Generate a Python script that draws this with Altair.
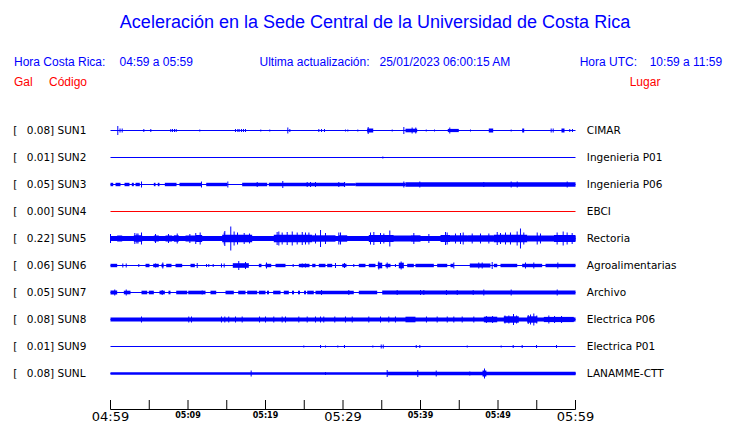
import altair as alt
import pandas as pd

# ---------------- texts ----------------
TITLE = "Aceleración en la Sede Central de la Universidad de Costa Rica"
HORA_CR = ["Hora Costa Rica:", "04:59 a 05:59"]
ACTUALIZACION = ["Ultima actualización:", "25/01/2023 06:00:15 AM"]
HORA_UTC = ["Hora UTC:", "10:59 a 11:59"]
COLUMN_HEADS = ["Gal", "Código", "Lugar"]

# ---------------- stations ----------------
CODES = ["SUN1", "SUN2", "SUN3", "SUN4", "SUN5", "SUN6", "SUN7", "SUN8", "SUN9", "SUNL"]
PEAKS = ["0.08", "0.01", "0.05", "0.00", "0.22", "0.06", "0.05", "0.08", "0.01", "0.08"]
PLACES = ["CIMAR", "Ingenieria P01", "Ingenieria P06", "EBCI", "Rectoria",
          "Agroalimentarias", "Archivo", "Electrica P06", "Electrica P01", "LANAMME-CTT"]
STATUS = ["ok", "ok", "ok", "off", "ok", "ok", "ok", "ok", "ok", "ok"]

# time axis (minutes after 04:59)
T_START, T_END = 0, 60
TICKS = [0, 5, 10, 15, 20, 25, 30, 35, 40, 45, 50, 55, 60]
MAJOR_TICKS = [0, 30, 60]
MAJOR_LABELS = ["04:59", "05:29", "05:59"]
MINOR_TICKS = [10, 20, 40, 50]
MINOR_LABELS = ["05:09", "05:19", "05:39", "05:49"]

# ---------------- trace envelopes (minute, half amplitude) ----------------
SUN1_SPIKES = [(0.94, 4.5), (1.23, 2), (1.51, 2), (4.30, 1.5), (5.20, 1.5), (7.78, 1.5), (8.0, 1.5),
               (8.26, 1.5), (8.48, 1.5), (11.52, 1), (16.13, 1.5), (16.43, 1.5), (16.6, 1.5), (16.9, 1.5),
               (17.16, 1.5), (17.42, 1.5), (19.39, 1), (20.55, 1), (22.88, 3), (23.14, 1.5), (26.88, 1.5),
               (27.23, 1.5), (27.61, 1.5), (30.32, 1), (30.62, 1), (31.91, 1), (33.25, 3.5), (36.35, 1),
               (37.85, 3.5), (38.92, 3), (39.39, 3), (40.74, 1), (41.81, 1), (43.78, 3), (46.45, 1),
               (51.70, 1), (56.86, 2), (57.12, 2), (59.26, 1.5), (59.61, 1.5)]
SUN1_BURSTS = [(33.12, 33.9, 2), (38.06, 39.57, 1.8), (43.52, 44.94, 1.6), (48.81, 49.38, 2),
               (53.12, 53.38, 2), (58.19, 58.58, 2)]

SUN2_SPIKES = [(35.14, 1)]
SUN2_BURSTS = []

SUN3_SPIKES = [(4.0, 3), (11.74, 3), (15.14, 3), (18.93, 2.5), (22.23, 3.5), (25.38, 2.5), (25.81, 2.5),
               (26.45, 2.5), (29.46, 2.5), (30.19, 2.5), (37.85, 3), (39.91, 3), (48.17, 2.5), (51.7, 3),
               (52.48, 3), (58.93, 3)]
SUN3_BURSTS = [(0, 0.35, 1.7), (0.65, 1.29, 1.7), (1.81, 2.45, 1.7), (2.75, 3.01, 1.7), (3.23, 3.78, 1.7),
               (5.59, 5.81, 1.7), (6.1, 6.32, 1.7), (7.01, 8.52, 1.7), (8.9, 11.7, 1.7), (12.35, 15.06, 1.7),
               (16.99, 20.22, 1.7), (20.43, 30.32, 1.7), (30.32, 31.61, 1.3), (31.61, 38.06, 1.7),
               (38.06, 60, 2.2)]

SUN4_SPIKES = []
SUN4_BURSTS = []

SUN5_SPIKES = [(0.0, 4.5), (3.14, 5.5), (3.4, 5), (3.55, 5), (4.0, 6), (5.81, 4.5), (7.48, 4.5), (8.61, 5),
               (10.24, 4.5), (11.0, 5.5), (11.57, 6), (14.67, 6), (14.75, 7.5), (15.52, 12), (15.95, 7),
               (16.39, 6), (17.25, 5.5), (17.94, 5), (21.5, 6.5), (21.72, 7), (22.15, 6), (22.8, 6.5),
               (23.45, 7), (24.09, 6), (24.74, 6.5), (25.16, 6), (25.6, 6), (26.45, 5), (27.1, 8.5),
               (27.74, 5.5), (29.46, 6), (29.68, 6), (33.55, 6), (33.98, 6.5), (34.84, 5.5), (35.27, 5),
               (36.04, 8), (39.14, 5.5), (41.08, 4.5), (43.23, 6.5), (43.44, 6), (44.52, 5), (45.16, 5.5),
               (45.51, 6), (46.67, 5), (47.74, 5), (48.82, 5), (49.9, 6.5), (50.32, 5.5), (50.97, 6),
               (51.61, 6), (52.47, 7), (52.9, 10), (53.33, 6), (55.06, 6), (55.48, 5), (57.63, 6),
               (58.41, 7), (58.92, 6), (59.57, 5.5)]
SUN5_BURSTS = [(0, 60, 2.6), (0.86, 1.51, 3), (3.01, 4.09, 3.3), (5.59, 6.23, 3), (7.1, 7.96, 3),
               (8.17, 8.81, 3.2), (9.68, 10.97, 3), (10.97, 11.83, 3.5), (14.41, 18.28, 3.8),
               (21.07, 26.03, 3.8), (26.03, 29.03, 3.2), (29.46, 30.54, 3.2),
               (33.33, 36.55, 3.5), (36.55, 38.71, 3), (38.71, 40.0, 3.2),
               (42.58, 43.87, 3.5), (43.87, 46.03, 3.2), (46.03, 49.46, 3.2), (49.46, 53.77, 3.8),
               (53.77, 57.2, 3), (57.2, 60, 3.5)]

SUN6_SPIKES = [(1.59, 2), (2.03, 2), (3.65, 1.5), (5.81, 2), (6.75, 3), (11.19, 2.5), (12.39, 1.5),
               (12.68, 1.5), (13.25, 1.5), (14.32, 2), (14.67, 2), (16.55, 4.5), (17.42, 3.5), (20.13, 3),
               (23.57, 1.5), (24.74, 2), (25.16, 2), (29.03, 2.5), (30.19, 2.5), (31.39, 1.5), (34.62, 4),
               (35.7, 3), (36.77, 1.5), (37.5, 4), (44.3, 3), (47.52, 3), (47.96, 3), (49.25, 3.5),
               (53.55, 3), (54.62, 3), (57.72, 3)]
SUN6_BURSTS = [(0, 0.86, 1.7), (4.52, 5.03, 1.7), (5.51, 6.23, 1.7), (6.58, 6.84, 1.7), (7.19, 7.87, 1.7),
               (8.39, 9.25, 1.7), (10.32, 10.88, 1.7), (15.78, 17.85, 2.3), (19.14, 19.48, 1.7), (20.0, 20.74, 1.7),
               (21.29, 22.58, 1.7), (24.3, 25.68, 1.7), (26.03, 26.45, 1.7), (26.88, 27.74, 1.7),
               (27.96, 28.61, 1.7), (29.9, 30.45, 1.7), (32.04, 32.9, 1.7), (33.33, 34.19, 1.7),
               (34.49, 35.06, 2.8), (35.48, 36.13, 1.7), (37.2, 37.85, 2.8), (38.28, 39.14, 1.7), (39.35, 41.72, 1.7),
               (42.15, 43.45, 1.7), (43.87, 44.26, 1.7), (46.36, 49.03, 2), (49.46, 49.9, 1.7),
               (50.32, 52.48, 1.7), (53.12, 55.7, 1.7), (56.13, 60, 1.7)]

SUN7_SPIKES = [(0.55, 3), (2.03, 3), (6.67, 2.5), (11.83, 2), (27.23, 2.5), (30.75, 2.5), (36.99, 2.5),
               (40.0, 2.5), (40.43, 2.5), (43.35, 2.5), (44.74, 2.5), (46.8, 2.5), (48.17, 3), (51.7, 3),
               (57.64, 3)]
SUN7_BURSTS = [(0, 0.86, 2), (1.72, 2.58, 1.8), (4.0, 4.74, 1.8), (4.94, 5.59, 1.8), (6.32, 7.01, 1.8),
               (7.48, 7.74, 1.8), (8.48, 9.9, 1.8), (10.03, 12.26, 1.8), (12.9, 13.64, 1.8), (14.84, 15.91, 1.8),
               (16.48, 17.42, 1.8), (17.64, 18.93, 1.8), (19.14, 20.0, 1.8), (20.19, 20.45, 1.8),
               (20.99, 21.94, 1.8), (22.36, 23.01, 1.8), (23.42, 23.68, 1.8), (24.19, 24.45, 1.8),
               (24.97, 25.23, 1.8), (25.38, 26.23, 1.8), (26.45, 31.39, 1.8), (32.04, 34.41, 1.8),
               (35.06, 60, 1.9)]

SUN8_SPIKES = [(4.0, 3), (10.1, 3), (10.45, 3), (14.32, 3), (14.75, 3), (15.26, 3), (16.13, 3), (16.99, 3),
               (19.23, 3), (20.0, 3), (21.07, 3), (22.15, 3), (22.58, 3), (24.3, 3), (25.38, 3), (26.45, 3),
               (27.1, 3), (27.52, 3), (28.94, 3), (30.32, 3), (31.19, 3), (33.33, 3), (34.84, 3), (35.91, 3),
               (36.77, 3), (40.77, 3), (42.15, 3), (43.45, 3), (44.3, 3), (45.38, 3), (46.88, 3),
               (48.5, 3.5), (49.3, 3.5), (50.9, 4), (51.4, 4), (52.0, 5.5), (52.4, 4), (53.9, 4.5),
               (54.2, 5), (54.62, 6), (55.0, 4), (56.56, 4), (57.3, 3.5), (58.2, 3.5)]
SUN8_BURSTS = [(0, 60, 2), (38.06, 39.35, 2.8), (48.17, 49.9, 2.8), (50.75, 52.68, 3.2), (53.77, 55.06, 3.2),
               (55.91, 59.78, 2.6)]

SUN9_SPIKES = [(24.94, 1), (27.1, 1.5), (27.74, 1), (29.33, 1), (30.19, 1.5), (33.85, 1), (34.93, 2),
               (35.19, 2), (39.45, 1.5), (39.91, 1.5), (46.03, 1), (50.41, 1), (51.96, 1.5), (53.12, 1.5),
               (54.97, 1.5), (57.55, 1.5)]
SUN9_BURSTS = []

SUNL_SPIKES = [(18.15, 3), (27.74, 1.5), (35.7, 3.5), (39.65, 3.5), (42.03, 3), (46.36, 2), (48.26, 5)]
SUNL_BURSTS = [(0, 60, 1.2), (35.7, 60, 1.7), (48.0, 48.5, 3)]

ALL_SPIKES = [SUN1_SPIKES, SUN2_SPIKES, SUN3_SPIKES, SUN4_SPIKES, SUN5_SPIKES,
              SUN6_SPIKES, SUN7_SPIKES, SUN8_SPIKES, SUN9_SPIKES, SUNL_SPIKES]
ALL_BURSTS = [SUN1_BURSTS, SUN2_BURSTS, SUN3_BURSTS, SUN4_BURSTS, SUN5_BURSTS,
              SUN6_BURSTS, SUN7_BURSTS, SUN8_BURSTS, SUN9_BURSTS, SUNL_BURSTS]

# ---------------- styling ----------------
BLUE = "#0000ff"
RED = "#ff0000"
X_RANGE = [102.5, 567.5]
Y_RANGE = [122.5, 365.5]
TRACE_PX = (Y_RANGE[1] - Y_RANGE[0]) / (len(CODES) - 1)

stations = pd.DataFrame({
    "idx": list(range(len(CODES))),
    "code": CODES,
    "left": [f"{p}] {c}" for p, c in zip(PEAKS, CODES)],
    "place": PLACES,
    "status": STATUS,
    "t0": [T_START] * len(CODES),
    "t1": [T_END] * len(CODES),
})

brows, srows = [], []
for i, code in enumerate(CODES):
    for t0, t1, a in ALL_BURSTS[i]:
        brows.append(dict(code=code, t0=t0, t1=t1, lo=i - a / TRACE_PX, hi=i + a / TRACE_PX, status=STATUS[i]))
    for t, a in ALL_SPIKES[i]:
        srows.append(dict(code=code, t=t, lo=i - a / TRACE_PX, hi=i + a / TRACE_PX, status=STATUS[i]))
bursts = pd.DataFrame(brows)
spikes = pd.DataFrame(srows)

xs = alt.Scale(domain=[T_START, T_END], range=X_RANGE, nice=False, zero=False)
ys = alt.Scale(domain=[0, len(CODES) - 1], range=Y_RANGE, nice=False, zero=False)
cs = alt.Scale(domain=["ok", "off"], range=[BLUE, RED])
col = alt.Color("status:N", scale=cs, legend=None)

baselines = alt.Chart(stations).mark_rule(strokeWidth=1).encode(
    x=alt.X("t0:Q", scale=xs, axis=None), x2="t1:Q",
    y=alt.Y("idx:Q", scale=ys, axis=None), color=col)

burst_layer = alt.Chart(bursts).mark_rect().encode(
    x=alt.X("t0:Q", scale=xs, axis=None), x2="t1:Q",
    y=alt.Y("lo:Q", scale=ys, axis=None), y2="hi:Q", color=col)

spike_layer = alt.Chart(spikes).mark_rule(strokeWidth=1).encode(
    x=alt.X("t:Q", scale=xs, axis=None),
    y=alt.Y("lo:Q", scale=ys, axis=None), y2="hi:Q", color=col)

LABEL_FONT = "DejaVu Sans"
bracket = alt.Chart(stations).mark_text(text="[", font=LABEL_FONT, fontSize=10.5, align="left", dy=3.8,
                                         baseline="alphabetic", color="black").encode(
    x=alt.value(5.2), y=alt.Y("idx:Q", scale=ys, axis=None))
left_lab = alt.Chart(stations).mark_text(font=LABEL_FONT, fontSize=10.5, align="left", dy=3.8,
                                          baseline="alphabetic", color="black").encode(
    x=alt.value(18.7), y=alt.Y("idx:Q", scale=ys, axis=None), text="left:N")
right_lab = alt.Chart(stations).mark_text(font=LABEL_FONT, fontSize=10.5, align="left", dy=3.8,
                                           baseline="alphabetic", color="black").encode(
    x=alt.value(578.8), y=alt.Y("idx:Q", scale=ys, axis=None), text="place:N")

# time axis
tick_df = pd.DataFrame({"t": TICKS, "t0": [T_START] * len(TICKS), "t1": [T_END] * len(TICKS)})
axis_line = alt.Chart(tick_df.head(1)).mark_rule(color="black", strokeWidth=1).encode(
    x=alt.X("t0:Q", scale=xs, axis=None), x2="t1:Q", y=alt.value(401.5))
tick_marks = alt.Chart(tick_df).mark_rule(color="black", strokeWidth=1).encode(
    x=alt.X("t:Q", scale=xs, axis=None), y=alt.value(392), y2=alt.value(401.5))
major_lab = alt.Chart(pd.DataFrame({"t": MAJOR_TICKS, "lab": MAJOR_LABELS})).mark_text(
    font=LABEL_FONT, fontSize=13, align="center", baseline="alphabetic", color="black").encode(
    x=alt.X("t:Q", scale=xs, axis=None), y=alt.value(413), text="lab:N")
minor_lab = alt.Chart(pd.DataFrame({"t": MINOR_TICKS, "lab": MINOR_LABELS})).mark_text(
    font=LABEL_FONT, fontSize=8, fontWeight="bold", align="center", baseline="alphabetic",
    color="black").encode(
    x=alt.X("t:Q", scale=xs, axis=None), y=alt.value(410.3), text="lab:N")


def label(txt, x, y, size=12, color=BLUE, align="left"):
    return alt.Chart(pd.DataFrame({"s": [txt]})).mark_text(
        font="Liberation Sans", fontSize=size, color=color, align=align, baseline="alphabetic").encode(
        text="s:N", x=alt.value(x), y=alt.value(y))


texts = [
    label(TITLE, 367, 19.5, size=18, align="center"),
    label(HORA_CR[0], 6, 57.5), label(HORA_CR[1], 111.5, 57.5),
    label(ACTUALIZACION[0], 251.5, 57.5), label(ACTUALIZACION[1], 371.5, 57.5),
    label(HORA_UTC[0], 571.7, 57.5), label(HORA_UTC[1], 641.7, 57.5),
    label(COLUMN_HEADS[0], 6, 77.5, color=RED), label(COLUMN_HEADS[1], 41, 77.5, color=RED),
    label(COLUMN_HEADS[2], 621.7, 77.5, color=RED),
]

chart = alt.layer(
    baselines, burst_layer, spike_layer, bracket, left_lab, right_lab,
    axis_line, tick_marks, major_lab, minor_lab, *texts
).properties(
    width=724, height=415, autosize=alt.AutoSizeParams(type="none"), padding=0, background="white"
).configure_view(stroke=None)

chart.save("out.html", embed_options={"renderer": "svg", "actions": False})
